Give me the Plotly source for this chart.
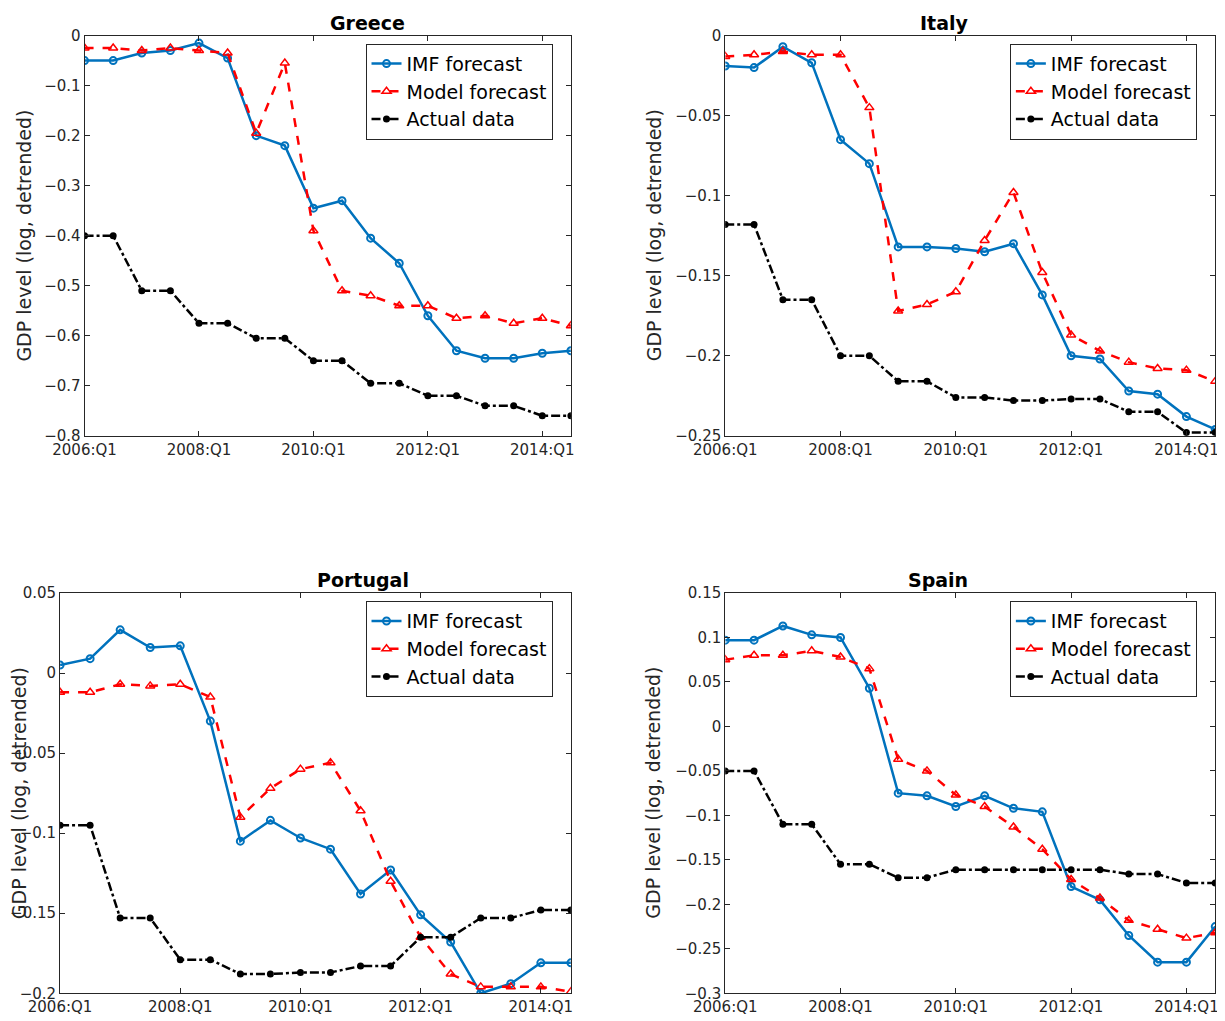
import plotly.graph_objects as go

quarters = ["2006:Q1", "2006:Q3", "2007:Q1", "2007:Q3", "2008:Q1", "2008:Q3", "2009:Q1", "2009:Q3",
            "2010:Q1", "2010:Q3", "2011:Q1", "2011:Q3", "2012:Q1", "2012:Q3", "2013:Q1", "2013:Q3",
            "2014:Q1", "2014:Q3"]
tick_labels = ["2006:Q1", "2008:Q1", "2010:Q1", "2012:Q1", "2014:Q1"]

greece_imf = [-0.05, -0.05, -0.035, -0.03, -0.015, -0.045, -0.20, -0.22, -0.345, -0.33, -0.405, -0.455,
              -0.56, -0.63, -0.645, -0.645, -0.635, -0.63]
greece_model = [-0.025, -0.025, -0.03, -0.025, -0.03, -0.035, -0.195, -0.055, -0.39, -0.51, -0.52, -0.54,
                -0.54, -0.565, -0.56, -0.575, -0.565, -0.58]
greece_actual = [-0.4, -0.4, -0.51, -0.51, -0.575, -0.575, -0.605, -0.605, -0.65, -0.65, -0.695, -0.695,
                 -0.72, -0.72, -0.74, -0.74, -0.76, -0.76]

italy_imf = [-0.019, -0.02, -0.007, -0.017, -0.065, -0.08, -0.132, -0.132, -0.133, -0.135, -0.13, -0.162,
             -0.2, -0.202, -0.222, -0.224, -0.238, -0.246]
italy_model = [-0.013, -0.012, -0.01, -0.012, -0.012, -0.045, -0.172, -0.168, -0.16, -0.128, -0.098, -0.148,
               -0.187, -0.197, -0.204, -0.208, -0.209, -0.216]
italy_actual = [-0.118, -0.118, -0.165, -0.165, -0.2, -0.2, -0.216, -0.216, -0.226, -0.226, -0.228, -0.228,
                -0.227, -0.227, -0.235, -0.235, -0.248, -0.248]

portugal_imf = [0.005, 0.009, 0.027, 0.016, 0.017, -0.03, -0.105, -0.092, -0.103, -0.11, -0.138, -0.123,
                -0.151, -0.168, -0.2, -0.194, -0.181, -0.181]
portugal_model = [-0.012, -0.012, -0.007, -0.008, -0.007, -0.015, -0.09, -0.072, -0.06, -0.056, -0.086, -0.13,
                  -0.165, -0.188, -0.196, -0.196, -0.196, -0.199]
portugal_actual = [-0.095, -0.095, -0.153, -0.153, -0.179, -0.179, -0.188, -0.188, -0.187, -0.187, -0.183, -0.183,
                   -0.165, -0.165, -0.153, -0.153, -0.148, -0.148]

spain_imf = [0.097, 0.097, 0.113, 0.103, 0.1, 0.043, -0.075, -0.078, -0.09, -0.078, -0.092, -0.096,
             -0.18, -0.195, -0.235, -0.265, -0.265, -0.225]
spain_model = [0.075, 0.08, 0.08, 0.085, 0.078, 0.065, -0.037, -0.05, -0.077, -0.09, -0.113, -0.138,
               -0.172, -0.193, -0.218, -0.228, -0.238, -0.232]
spain_actual = [-0.05, -0.05, -0.11, -0.11, -0.155, -0.155, -0.17, -0.17, -0.161, -0.161, -0.161, -0.161,
                -0.161, -0.161, -0.166, -0.166, -0.176, -0.176]

# domains shifted to make up for the page's body margin; last item = y title x position
panels = [
    ("Greece", greece_imf, greece_model, greece_actual, [-0.8, 0], 0.1, [0.0625, 0.4595], [0.581, 0.973], 0.013),
    ("Italy", italy_imf, italy_model, italy_actual, [-0.25, 0], 0.05, [0.5855, 0.9855], [0.581, 0.973], 0.527),
    ("Portugal", portugal_imf, portugal_model, portugal_actual, [-0.2, 0.05], 0.05, [0.0425, 0.4595], [0.035, 0.427], 0.009),
    ("Spain", spain_imf, spain_model, spain_actual, [-0.3, 0.15], 0.05, [0.5855, 0.9855], [0.035, 0.427], 0.527),
]

x = list(range(len(quarters)))
fig = go.Figure()
layout = dict(width=1225, height=1021, margin=dict(l=0, r=0, t=0, b=0, autoexpand=False),
              plot_bgcolor="white", paper_bgcolor="white",
              font=dict(family="DejaVu Sans", size=15, color="#262626"), annotations=[])

for i, (name, imf, model, actual, yr, dt, xd, yd, tx) in enumerate(panels):
    n = "" if i == 0 else str(i + 1)
    leg = "legend" + n
    fig.add_trace(go.Scatter(x=x, y=imf, name="IMF forecast", mode="lines+markers",
                             line=dict(color="#0072BD", width=2.5),
                             marker=dict(symbol="circle-open", size=7, line=dict(width=2)),
                             xaxis="x" + n, yaxis="y" + n, legend=leg))
    fig.add_trace(go.Scatter(x=x, y=model, name="Model forecast", mode="lines+markers",
                             line=dict(color="#FF0000", width=2.5, dash="dash"),
                             marker=dict(symbol="triangle-up-open", size=8, line=dict(width=1.5)),
                             xaxis="x" + n, yaxis="y" + n, legend=leg))
    fig.add_trace(go.Scatter(x=x, y=actual, name="Actual data", mode="lines+markers",
                             line=dict(color="black", width=2.5, dash="dashdot"),
                             marker=dict(symbol="circle", size=7),
                             xaxis="x" + n, yaxis="y" + n, legend=leg))
    ax = dict(showline=True, mirror="ticks", linecolor="#262626", linewidth=1, ticks="inside",
              ticklen=5, tickcolor="#262626", showgrid=False, zeroline=False, automargin=False)
    layout["xaxis" + n] = dict(ax, domain=xd, anchor="y" + n, range=[0, 17],
                               tickvals=[0, 4, 8, 12, 16], ticktext=tick_labels)
    layout["yaxis" + n] = dict(ax, domain=yd, anchor="x" + n, range=yr, dtick=dt)
    layout[leg] = dict(x=xd[1] - 0.015, y=yd[1] - 0.008, xanchor="right", yanchor="top",
                       bordercolor="#262626", borderwidth=1, bgcolor="white",
                       font=dict(size=19, color="black"), tracegroupgap=0)
    layout["annotations"].append(dict(text="<b>" + name + "</b>", x=(xd[0] + xd[1]) / 2, y=yd[1],
                                      xref="paper", yref="paper", yanchor="bottom", showarrow=False,
                                      font=dict(size=19, color="black")))
    layout["annotations"].append(dict(text="GDP level (log, detrended)", x=tx, y=(yd[0] + yd[1]) / 2,
                                      xref="paper", yref="paper", xanchor="center", yanchor="middle",
                                      textangle=-90, showarrow=False,
                                      font=dict(size=19, color="#262626")))

fig.update_layout(**layout)
fig.write_html("out.html")
